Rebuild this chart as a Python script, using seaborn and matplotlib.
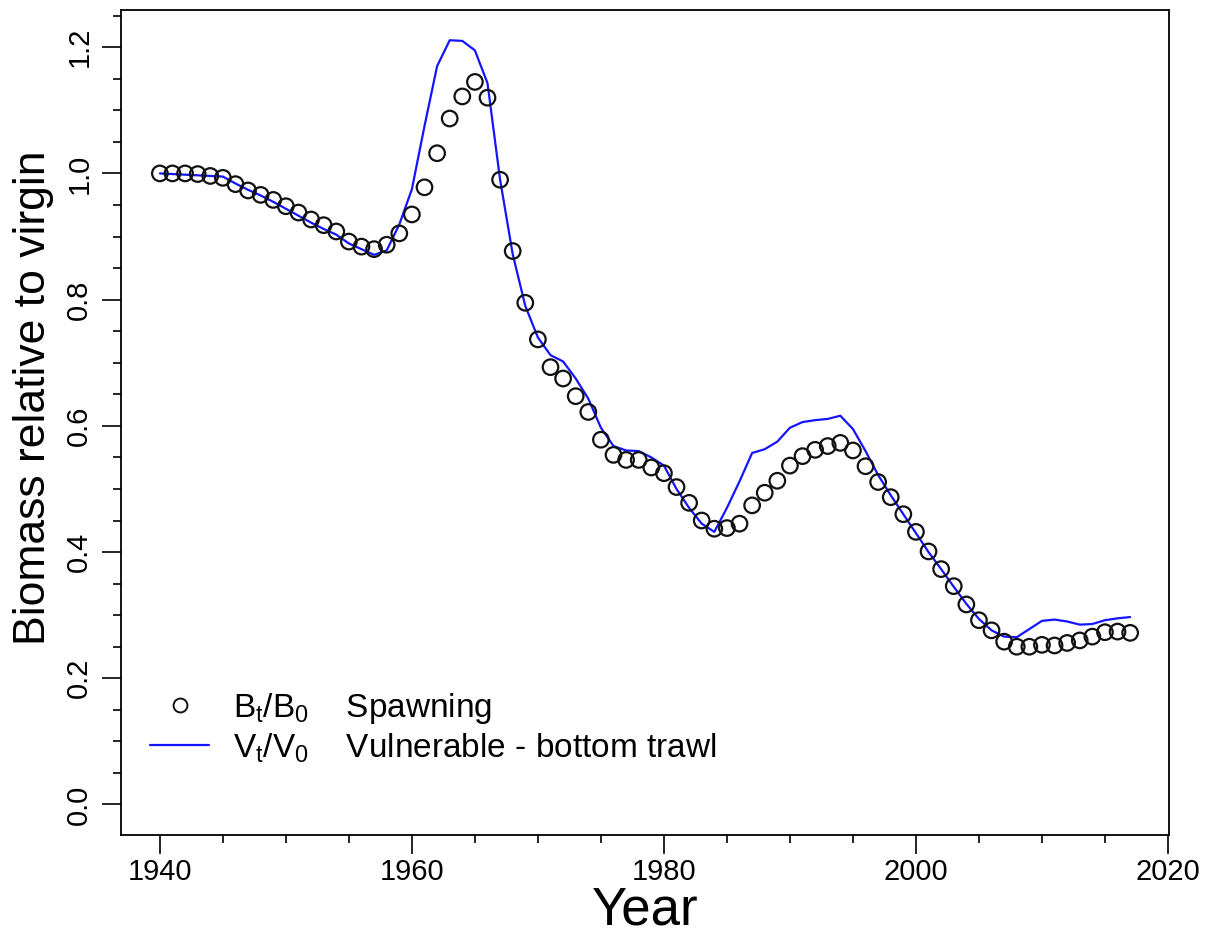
import numpy as np
import pandas as pd
import matplotlib
matplotlib.use("Agg")
import matplotlib.pyplot as plt
from matplotlib import font_manager
from matplotlib.lines import Line2D
from matplotlib.ticker import MultipleLocator
import seaborn as sns

years = list(range(1940, 2018))
spawning = [1.000, 1.000, 1.000, 0.999, 0.996, 0.993, 0.983, 0.973, 0.966, 0.958,
            0.948, 0.938, 0.927, 0.918, 0.908, 0.892, 0.884, 0.880, 0.887, 0.905,
            0.935, 0.978, 1.032, 1.087, 1.122, 1.145, 1.120, 0.990, 0.877, 0.795,
            0.737, 0.693, 0.675, 0.647, 0.622, 0.578, 0.554, 0.546, 0.546, 0.534,
            0.525, 0.503, 0.478, 0.450, 0.437, 0.438, 0.445, 0.474, 0.494, 0.513,
            0.537, 0.552, 0.562, 0.568, 0.573, 0.561, 0.536, 0.511, 0.487, 0.460,
            0.432, 0.401, 0.373, 0.346, 0.317, 0.292, 0.276, 0.258, 0.250, 0.250,
            0.253, 0.252, 0.256, 0.260, 0.266, 0.273, 0.274, 0.272]
vulnerable = [1.000, 0.999, 0.998, 0.997, 0.996, 0.995, 0.984, 0.974, 0.965, 0.955,
              0.944, 0.933, 0.922, 0.912, 0.903, 0.889, 0.880, 0.871, 0.878, 0.919,
              0.975, 1.075, 1.170, 1.211, 1.210, 1.195, 1.143, 0.990, 0.872, 0.790,
              0.740, 0.712, 0.702, 0.675, 0.643, 0.597, 0.568, 0.561, 0.560, 0.550,
              0.537, 0.500, 0.470, 0.445, 0.432, 0.470, 0.512, 0.557, 0.563, 0.575,
              0.597, 0.606, 0.609, 0.611, 0.616, 0.595, 0.560, 0.522, 0.490, 0.460,
              0.430, 0.400, 0.373, 0.345, 0.318, 0.294, 0.276, 0.266, 0.265, 0.278,
              0.291, 0.293, 0.290, 0.285, 0.286, 0.292, 0.295, 0.297]

x_major = [1940, 1960, 1980, 2000, 2020]
y_major = [0.0, 0.2, 0.4, 0.6, 0.8, 1.0, 1.2]
lab_b = r"$\mathregular{B_t/B_0}$    Spawning"
lab_v = r"$\mathregular{V_t/V_0}$    Vulnerable - bottom trawl"

sns.set_theme(style="ticks")
plt.rcParams["font.family"] = ["Liberation Sans", "DejaVu Sans"]
plt.rcParams["mathtext.fontset"] = "custom"
plt.rcParams["mathtext.rm"] = "Liberation Sans"
for k in ["text.color", "axes.labelcolor", "xtick.color", "ytick.color",
          "xtick.labelcolor", "ytick.labelcolor"]:
    plt.rcParams[k] = "black"

# condensed face for the y label if present
narrow_ok = False
try:
    font_manager.findfont("Liberation Sans Narrow", fallback_to_default=False)
    narrow_ok = True
except Exception:
    narrow_ok = False

df = pd.DataFrame({"Year": years, "B": spawning, "V": vulnerable})

fig = plt.figure(figsize=(12.13, 9.41), dpi=100)
ax = fig.add_axes([0.0998, 0.1126, 0.8639, 0.8764])

sns.lineplot(data=df, x="Year", y="V", color="#1414FF", linewidth=1.6, ax=ax, zorder=2)
sns.scatterplot(data=df, x="Year", y="B", marker="o", s=125, facecolors="none",
                edgecolor="#111111", linewidth=1.6, ax=ax, zorder=3)

ax.set_xlim(1936.92, 2020.08)
ax.set_ylim(-0.0484, 1.2584)
ax.set_xticks(x_major)
ax.set_xticklabels([str(v) for v in x_major])
ax.xaxis.set_minor_locator(MultipleLocator(5))
ax.set_yticks(y_major)
ax.set_yticklabels([f"{v:.1f}" for v in y_major], rotation=90, va="center")
ax.yaxis.set_minor_locator(MultipleLocator(0.05))

ax.tick_params(which="major", length=14, width=1.2, labelsize=21, color="black",
               labelcolor="black", direction="out")
ax.tick_params(axis="x", which="major", pad=2.5)
ax.tick_params(axis="y", which="major", pad=6)
ax.tick_params(which="minor", length=6, width=1.2, color="black", direction="out")
for s in ax.spines.values():
    s.set_visible(True)
    s.set_linewidth(1.3)
    s.set_color("black")

ax.set_xlabel("Year", fontsize=38, labelpad=0, color="black")
if narrow_ok:
    ax.set_ylabel("Biomass relative to virgin", fontsize=37, labelpad=7, color="black",
                  family=["Liberation Sans Narrow", "Liberation Sans"])
else:
    ax.set_ylabel("Biomass relative to virgin", fontsize=32, labelpad=8, color="black")
ax.yaxis.label.set_y(0.53)

handles = [
    Line2D([], [], linestyle="none", marker="o", markersize=10, markerfacecolor="none",
           markeredgecolor="#111111", markeredgewidth=1.4),
    Line2D([], [], color="#1414FF", linewidth=1.6),
]
leg = ax.legend(handles, [lab_b, lab_v], loc="center left", bbox_to_anchor=(0.028, 0.130),
                frameon=False, fontsize=24, handlelength=1.75, handletextpad=0.72,
                labelspacing=0.15, borderaxespad=0.0, borderpad=0.0)
for t in leg.get_texts():
    t.set_color("black")

fig.savefig("out.png", dpi=100, facecolor="white")
